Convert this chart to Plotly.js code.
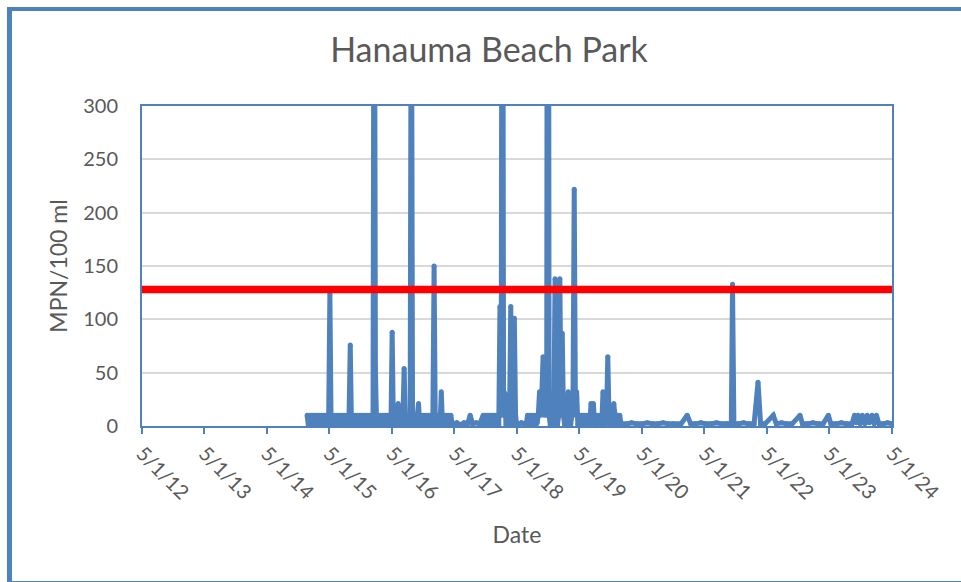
<!DOCTYPE html>
<html>
<head>
<meta charset="utf-8">
<script src="https://cdn.plot.ly/plotly-3.0.1.min.js"></script>
<style>
  html, body { margin: 0; padding: 0; background: #ffffff; overflow: hidden; }
  #chart { width: 961px; height: 582px; position: absolute; left: 0; top: 0; }
  #frame { position: absolute; left: 7px; top: 7px; width: 980px; height: 570px;
           border-left: 5px solid #4F81BD; border-top: 4px solid #4F81BD; border-bottom: 2px solid #4F81BD;
           pointer-events: none; }
</style>
</head>
<body>
<div id="chart"></div>
<div id="frame"></div>
<script>
// ---- data (values in MPN/100 ml; >300 are off-scale spikes) ----
const dates2014 = ['2014-12-22','2014-12-29'];
const values2014 = [10,1];

const dates2015 = [
  '2015-01-05','2015-01-12','2015-01-19','2015-01-26',
  '2015-02-02','2015-02-09','2015-02-16','2015-02-23',
  '2015-03-02','2015-03-09','2015-03-16','2015-03-23','2015-03-30',
  '2015-04-06','2015-04-13','2015-04-20','2015-04-27',
  '2015-05-04','2015-05-11','2015-05-18','2015-05-25',
  '2015-06-01','2015-06-08','2015-06-15','2015-06-22','2015-06-29',
  '2015-07-06','2015-07-13','2015-07-20','2015-07-27',
  '2015-08-03','2015-08-10','2015-08-17','2015-08-24','2015-08-31',
  '2015-09-07','2015-09-14','2015-09-21','2015-09-28',
  '2015-10-05','2015-10-12','2015-10-19','2015-10-26',
  '2015-11-02','2015-11-09','2015-11-16','2015-11-23','2015-11-30',
  '2015-12-07','2015-12-14','2015-12-21','2015-12-28'
];
const values2015 = [
  10,1,10,1,
  10,1,10,1,
  10,1,10,1,10,
  1,10,1,10,
  124,1,10,1,
  10,1,10,1,10,
  1,10,1,10,
  1,10,1,10,76,
  1,10,1,10,
  1,10,1,10,
  1,10,1,10,1,
  10,1,10,1
];

const dates2016 = [
  '2016-01-04','2016-01-11','2016-01-18','2016-01-25',
  '2016-02-01','2016-02-08','2016-02-15','2016-02-22','2016-02-29',
  '2016-03-07','2016-03-14','2016-03-21','2016-03-28',
  '2016-04-04','2016-04-11','2016-04-18','2016-04-25',
  '2016-05-02','2016-05-09','2016-05-16','2016-05-23','2016-05-30',
  '2016-06-06','2016-06-13','2016-06-20','2016-06-27',
  '2016-07-04','2016-07-11','2016-07-18','2016-07-25',
  '2016-08-01','2016-08-08','2016-08-15','2016-08-22','2016-08-29',
  '2016-09-05','2016-09-12','2016-09-19','2016-09-26',
  '2016-10-03','2016-10-10','2016-10-17','2016-10-24','2016-10-31',
  '2016-11-07','2016-11-14','2016-11-21','2016-11-28',
  '2016-12-05','2016-12-12','2016-12-19','2016-12-26'
];
const values2016 = [
  10,1,600,54,
  1,10,1,10,1,
  10,1,10,1,
  10,1,10,1,
  88,1,10,1,10,
  21,1,10,1,
  10,54,1,10,
  1,10,1,500,10,
  1,10,1,10,
  21,1,10,1,10,
  1,10,1,10,
  1,10,1,10
];

const dates2017 = [
  '2017-01-02','2017-01-09','2017-01-16','2017-01-23','2017-01-30',
  '2017-02-06','2017-02-13','2017-02-20','2017-02-27',
  '2017-03-06','2017-03-13','2017-03-20','2017-03-27',
  '2017-04-03','2017-04-10','2017-04-17','2017-04-24',
  '2017-05-15','2017-06-05','2017-06-26','2017-07-17','2017-08-01','2017-08-15','2017-09-05','2017-09-26',
  '2017-10-16','2017-10-23','2017-10-30',
  '2017-11-06','2017-11-13','2017-11-20','2017-11-27',
  '2017-12-04','2017-12-11','2017-12-18','2017-12-25'
];
const values2017 = [
  150,1,10,1,10,
  1,32,1,10,
  1,10,1,10,
  1,10,2,2,
  3,1,3,2,10,2,3,2,
  10,1,10,
  1,10,1,10,
  1,10,1,10
];

const dates2018 = [
  '2018-01-01','2018-01-08','2018-01-15','2018-01-22','2018-01-29',
  '2018-02-05','2018-02-12','2018-02-19','2018-02-26',
  '2018-03-05','2018-03-12','2018-03-19','2018-03-26',
  '2018-04-02','2018-04-09','2018-04-16','2018-04-23','2018-04-30',
  '2018-05-14','2018-05-28','2018-06-11','2018-06-25',
  '2018-07-02','2018-07-09','2018-07-16','2018-07-23','2018-07-30',
  '2018-08-06','2018-08-13','2018-08-20','2018-08-27',
  '2018-09-03','2018-09-10','2018-09-17','2018-09-24',
  '2018-10-01','2018-10-08','2018-10-15','2018-10-22','2018-10-29',
  '2018-11-05','2018-11-12','2018-11-19','2018-11-26',
  '2018-12-03','2018-12-10','2018-12-17','2018-12-24','2018-12-31'
];
const values2018 = [
  1,10,1,112,10,
  800,10,31,1,
  10,1,10,112,
  10,1,101,10,1,
  2,3,2,2,
  10,1,10,1,10,
  1,10,1,3,
  10,32,10,32,
  65,10,32,10,1200,
  10,1,10,1,
  10,138,10,1,10
];

const dates2019 = [
  '2019-01-07','2019-01-14','2019-01-21','2019-01-28',
  '2019-02-04','2019-02-11','2019-02-18','2019-02-25',
  '2019-03-04','2019-03-11','2019-03-18','2019-03-25',
  '2019-04-01','2019-04-08','2019-04-15','2019-04-22','2019-04-29',
  '2019-05-06','2019-05-13','2019-05-20','2019-05-27',
  '2019-06-03','2019-06-10','2019-06-17','2019-06-24',
  '2019-07-01','2019-07-08','2019-07-15','2019-07-22','2019-07-29',
  '2019-08-05','2019-08-12','2019-08-19','2019-08-26',
  '2019-09-02','2019-09-09','2019-09-16','2019-09-23','2019-09-30',
  '2019-10-07','2019-10-14','2019-10-21','2019-10-28',
  '2019-11-04','2019-11-11','2019-11-18','2019-11-25',
  '2019-12-02','2019-12-09','2019-12-16','2019-12-23','2019-12-30'
];
const values2019 = [
  138,10,87,10,
  1,10,1,32,
  10,1,10,32,
  222,10,32,1,10,
  1,10,1,10,
  1,10,1,10,
  1,21,10,21,1,
  10,1,10,1,
  10,1,32,10,1,
  10,65,10,1,
  10,1,21,10,
  1,10,1,10,2
];

const dates2020to2024 = [
  '2020-02-05','2020-03-01','2020-04-01','2020-05-01','2020-06-01','2020-07-01','2020-08-01','2020-09-01','2020-10-01','2020-11-01','2020-12-15',
  '2021-01-20','2021-02-10','2021-03-10','2021-04-10','2021-05-10','2021-06-10','2021-07-10','2021-08-10','2021-09-10','2021-10-05','2021-10-12','2021-10-20','2021-11-15','2021-12-15',
  '2022-01-15','2022-02-15','2022-03-10','2022-03-25','2022-04-20','2022-06-07','2022-06-25','2022-07-25','2022-08-25','2022-09-25','2022-11-10','2022-11-25','2022-12-25',
  '2023-01-25','2023-02-25','2023-03-25','2023-04-25','2023-05-10','2023-06-10','2023-07-10','2023-08-10','2023-09-10','2023-09-25','2023-10-05','2023-10-15','2023-10-28','2023-11-10','2023-11-24','2023-12-08','2023-12-20',
  '2024-01-05','2024-01-18','2024-01-31','2024-02-15','2024-03-10','2024-04-05','2024-05-01'
];
const values2020to2024 = [
  2,3,2,2,3,2,2,3,2,2,2,
  10,2,2,3,2,2,3,2,2,2,133,2,2,3,
  2,2,41,2,2,10,2,3,2,2,10,2,2,
  3,2,2,10,2,2,3,2,2,10,3,10,2,10,2,10,3,
  10,2,10,2,2,3,2
];

const limitDates = ['2012-05-01', '2024-05-01'];
const limitValues = [128, 128];
const tickDates = ['2012-05-01','2013-05-01','2014-05-01','2015-05-01','2016-05-01','2017-05-01',
                   '2018-05-01','2019-05-01','2020-05-01','2021-05-01','2022-05-01','2023-05-01','2024-05-01'];
const tickLabels = ['5/1/12','5/1/13','5/1/14','5/1/15','5/1/16','5/1/17',
                    '5/1/18','5/1/19','5/1/20','5/1/21','5/1/22','5/1/23','5/1/24'];
const titleText = 'Hanauma Beach Park';
const xTitle = 'Date';
const yTitle = 'MPN/100 ml';

const sampleDates = [].concat(dates2014, dates2015, dates2016, dates2017, dates2018, dates2019, dates2020to2024);
const mpnValues = [].concat(values2014, values2015, values2016, values2017, values2018, values2019, values2020to2024);

const BLUE = '#4F81BD';
const TXT = '#595959';
const FONT = 'Lato, "Open Sans", sans-serif';

const traces = [
  {
    x: sampleDates, y: mpnValues, type: 'scatter', mode: 'lines+markers',
    line: { color: BLUE, width: 5, simplify: false },
    marker: { color: BLUE, size: 5 },
    hoverinfo: 'x+y', showlegend: false
  },
  {
    x: limitDates, y: limitValues, type: 'scatter', mode: 'lines',
    line: { color: '#FF0000', width: 7.5 },
    hoverinfo: 'y', showlegend: false
  }
];

const layout = {
  width: 961, height: 582,
  margin: { l: 142, r: 69, t: 106, b: 156, pad: 0 },
  paper_bgcolor: '#ffffff', plot_bgcolor: '#ffffff',
  font: { family: FONT, color: TXT },
  title: {
    text: titleText, font: { family: FONT, size: 34, color: TXT },
    xref: 'container', yref: 'container', x: 489 / 961, xanchor: 'center',
    y: 1 - 50 / 582, yanchor: 'middle'
  },
  xaxis: {
    type: 'date', range: [limitDates[0], limitDates[1]],
    tickmode: 'array', tickvals: tickDates, ticktext: tickLabels,
    tickangle: 45, tickfont: { family: FONT, size: 20, color: TXT },
    ticks: 'outside', ticklen: 6, tickwidth: 2, tickcolor: BLUE,
    showgrid: false, zeroline: false,
    showline: true, linecolor: BLUE, linewidth: 2, mirror: true,
    title: { text: xTitle, font: { family: FONT, size: 23, color: TXT }, standoff: 24 },
    automargin: false
  },
  yaxis: {
    range: [0, 300], dtick: 50, tick0: 0,
    tickfont: { family: FONT, size: 20, color: TXT },
    ticks: '', ticklabelstandoff: 18,
    showgrid: true, gridcolor: '#D9D9D9', gridwidth: 2, zeroline: false,
    showline: true, linecolor: BLUE, linewidth: 2, mirror: true,
    title: { text: yTitle, font: { family: FONT, size: 23, color: TXT }, standoff: 9 },
    automargin: false
  }
};

Plotly.newPlot('chart', traces, layout, { displayModeBar: false, staticPlot: true });
</script>
</body>
</html>
